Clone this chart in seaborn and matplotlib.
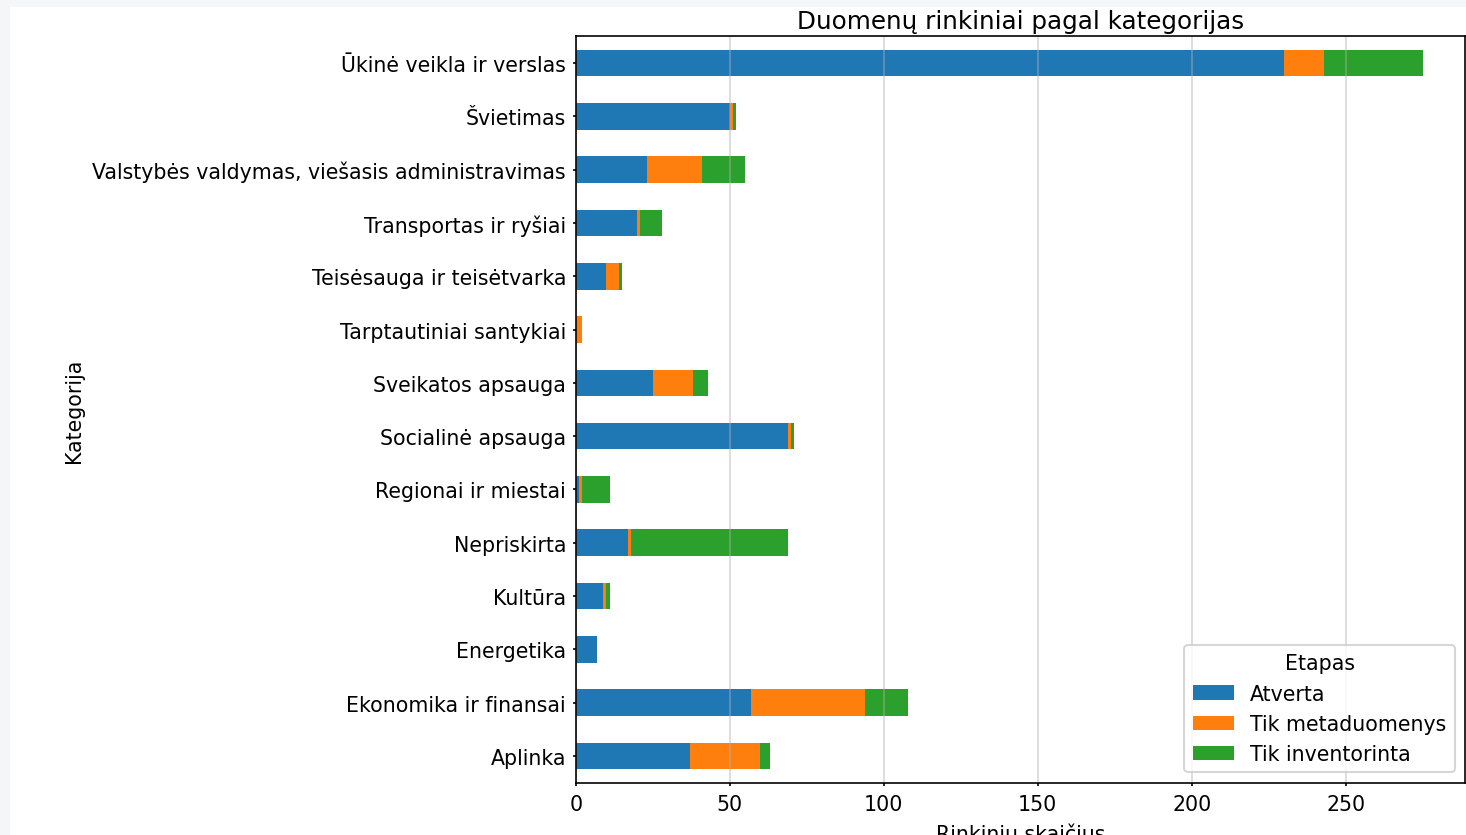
import pandas as pd
import numpy as np
import matplotlib
matplotlib.use("Agg")
import matplotlib.pyplot as plt
from matplotlib.patches import Patch, Rectangle
import seaborn as sns

# duomenys
kategorijos = ["Ūkinė veikla ir verslas", "Švietimas",
               "Valstybės valdymas, viešasis administravimas",
               "Transportas ir ryšiai", "Teisėsauga ir teisėtvarka",
               "Tarptautiniai santykiai", "Sveikatos apsauga",
               "Socialinė apsauga", "Regionai ir miestai", "Nepriskirta",
               "Kultūra", "Energetika", "Ekonomika ir finansai", "Aplinka"]
atverta = [230, 50, 23, 20, 10, 0, 25, 69, 1, 17, 9, 7, 57, 37]
tik_metaduomenys = [13, 1, 18, 1, 4, 2, 13, 1, 1, 1, 1, 0, 37, 23]
tik_inventorinta = [32, 1, 14, 7, 1, 0, 5, 1, 9, 51, 1, 0, 14, 3]
etapai = ["Atverta", "Tik metaduomenys", "Tik inventorinta"]
spalvos = ["#1f77b4", "#ff7f0e", "#2ca02c"]

df = pd.DataFrame({"Kategorija": kategorijos,
                   "Atverta": atverta,
                   "Tik metaduomenys": tik_metaduomenys,
                   "Tik inventorinta": tik_inventorinta})
# kumuliatyvios sumos sluoksniams
df["s1"] = df["Atverta"]
df["s2"] = df["s1"] + df["Tik metaduomenys"]
df["s3"] = df["s2"] + df["Tik inventorinta"]

fig = plt.figure(figsize=(1466 / 148, 836 / 148), dpi=148, facecolor="#f5f6f8")
fig.patches.append(Rectangle((10 / 1466, 0), 1, (836 - 8) / 836,
                             transform=fig.transFigure, facecolor="white",
                             edgecolor="none", zorder=-10))
ax = fig.add_axes([575.7 / 1466, 52.3 / 836, 889.3 / 1466, 746.4 / 836])

for col, c in zip(["s3", "s2", "s1"], spalvos[::-1]):
    sns.barplot(data=df, x=col, y="Kategorija", orient="h", color=c,
                width=0.5, saturation=1, errorbar=None, linewidth=0, ax=ax)

ax.set_axisbelow("line")
ax.grid(axis="x", alpha=0.5)
ax.tick_params(axis="y", length=1.7, pad=3)
ax.tick_params(axis="x", length=1.7, pad=3.8)
ax.set_xlim(0, 275 * 1.05)
ax.set_ylim(13.5, -0.5)
ax.set_title("Duomenų rinkiniai pagal kategorijas", pad=4)
ax.set_xlabel("Rinkinių skaičius")
ax.set_ylabel("Kategorija")

handles = [Patch(facecolor=c, label=e) for c, e in zip(spalvos, etapai)]
ax.legend(handles=handles, title="Etapas", loc="lower right")

fig.savefig("out.png", dpi=148, facecolor=fig.get_facecolor())
